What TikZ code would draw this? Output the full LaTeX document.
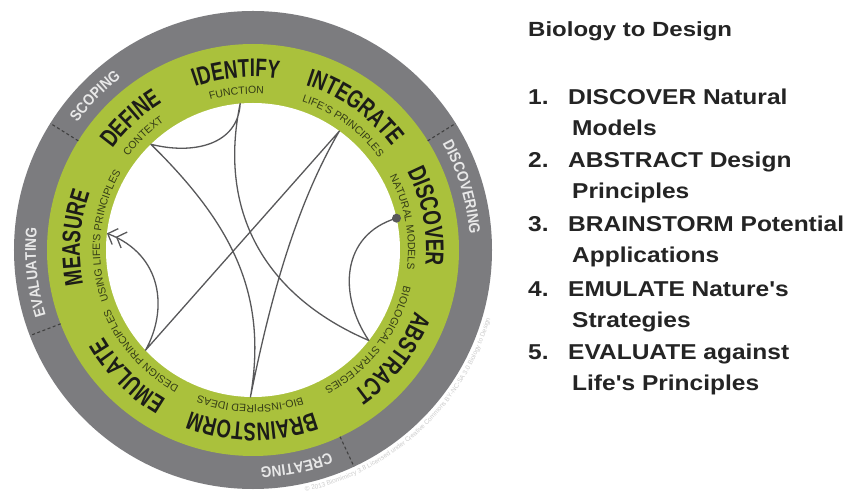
\documentclass[tikz,border=0pt]{standalone}
\usepackage{fontspec}
\setmainfont{Liberation Sans}
\newfontfamily\narrowsans[FakeStretch=0.73]{Liberation Sans}
\newfontfamily\phasesans[FakeStretch=0.88]{Liberation Sans}
\newfontfamily\listsans[FakeStretch=1.14]{Liberation Sans}
\newfontfamily\titlesans[FakeStretch=1.17]{Liberation Sans}
\usetikzlibrary{arrows.meta,positioning,decorations.text}

\definecolor{ringgrey}{RGB}{124,124,127}
\definecolor{ringgreen}{RGB}{170,193,60}
\definecolor{flowgrey}{RGB}{88,88,90}
\definecolor{stagetext}{RGB}{28,28,24}
\definecolor{subtext}{RGB}{52,60,22}
\definecolor{phasetext}{RGB}{232,232,232}
\definecolor{listtext}{RGB}{36,36,36}

\newcommand\stagefont{\narrowsans\bfseries\fontsize{25.5}{26}\selectfont}
\newcommand\subfont{\fontsize{10.5}{12}\selectfont}
\newcommand\phasefont{\phasesans\bfseries\fontsize{15.5}{16}\selectfont}
\newcommand\notefont{\fontsize{6.5}{7}\selectfont}
% text set along a clockwise arc, centred on an angle
\newcommand\ringtext[5]{%
  \path[decorate, decoration={text along path, text align=center,
    text color=#4, text={|#3|#5}}]
    (#1+70:#2) arc[start angle=#1+70, end angle=#1-70, radius=#2];}

\tikzset{
  flow/.style={draw=flowgrey, line width=1.3pt, line join=round,
    -{Straight Barb[length=8pt,width=17pt] Straight Barb[length=8pt,width=17pt]}},
  startdot/.style={circle, fill=flowgrey, minimum size=9pt, inner sep=0pt},
  divider/.style={draw=black!75, line width=1.1pt, dash pattern=on 3pt off 2.5pt},
  listitem/.style={anchor=base west, inner sep=0pt, text=listtext,
    font=\listsans\bfseries\fontsize{21.5}{24}\selectfont},
}

\begin{document}
\begin{tikzpicture}[x=1pt, y=1pt]
\useasboundingbox[fill=white] (-253,-250) rectangle (595,250);

% rings
\fill[ringgrey] (0,0) circle (239);
\fill[ringgreen] (0,0) circle (206);
\fill[white] (0,0) circle (147);
\foreach \a in {32,148,201,-65}
  \draw[divider] (\a:206) -- (\a:239);

% phases
\ringtext{135.7}{217}{\phasefont}{phasetext}{SCOPING}
\ringtext{16.7}{217}{\phasefont}{phasetext}{DISCOVERING}
\ringtext{-78.6}{217}{\phasefont}{phasetext}{CREATING}
\ringtext{185.8}{217}{\phasefont}{phasetext}{EVALUATING}

% stages
\ringtext{133}{173}{\stagefont}{stagetext}{DEFINE}
\ringtext{95.5}{173}{\stagefont}{stagetext}{IDENTIFY}
\ringtext{54.5}{173}{\stagefont}{stagetext}{INTEGRATE}
\ringtext{11}{173}{\stagefont}{stagetext}{DISCOVER}
\ringtext{-37.7}{173}{\stagefont}{stagetext}{ABSTRACT}
\ringtext{-90.3}{173}{\stagefont}{stagetext}{BRAINSTORM}
\ringtext{-135}{173}{\stagefont}{stagetext}{EMULATE}
\ringtext{176}{173}{\stagefont}{stagetext}{MEASURE}

\ringtext{134}{156}{\subfont}{subtext}{CONTEXT}
\ringtext{96}{156}{\subfont}{subtext}{FUNCTION}
\ringtext{54}{156}{\subfont}{subtext}{LIFE'S PRINCIPLES}
\ringtext{10.5}{155}{\subfont}{subtext}{NATURAL MODELS}
\ringtext{-38}{155}{\subfont}{subtext}{BIOLOGICAL STRATEGIES}
\ringtext{-91}{155}{\subfont}{subtext}{BIO-INSPIRED IDEAS}
\ringtext{-138}{155}{\subfont}{subtext}{DESIGN PRINCIPLES}
\ringtext{174.5}{153}{\subfont}{subtext}{USING LIFE'S PRINCIPLES}

\path[decorate, decoration={text along path, text align=center,
  text color=black!20, text={|\notefont|© 2013 Biomimicry 3.8     Licensed under Creative Commons BY-NC-SA 3.0     Biology to Design}}]
  (-86:247) arc[start angle=-86, end angle=-8, radius=247];

% stage points on the inner edge
\coordinate (define) at (134:147);
\coordinate (identify) at (95:147);
\coordinate (integrate) at (54:147);
\coordinate (discover) at (12.5:147);
\coordinate (abstract) at (-38:147);
\coordinate (brainstorm) at (-91:147);
\coordinate (emulate) at (-137:147);
\coordinate (measure) at (173.5:147);

\draw[flow] (discover) .. controls (88,15) and (85,-45) .. (abstract)
  .. controls (10,-45) and (-35,40) .. (identify)
  .. controls (-15,105) and (-60,95) .. (define)
  .. controls (-20,25) and (15,-45) .. (brainstorm)
  .. controls (15,-60) and (40,40) .. (integrate)
  -- (emulate)
  .. controls (-85,-60) and (-90,-5) .. (measure);
\node[startdot] (start) at (discover) {};

% list on the right
\node[listitem, font=\titlesans\bfseries\fontsize{20.5}{24}\selectfont] (title) at (275,213) {Biology to Design};
\foreach \i/\y/\a/\b in {1/145/DISCOVER Natural/Models,
    2/82/ABSTRACT Design/Principles,
    3/18/BRAINSTORM Potential/Applications,
    4/-47/EMULATE Nature's/Strategies,
    5/-110/EVALUATE against/Life's Principles} {
  \node[listitem] (num\i) at (275,\y) {\i.};
  \node[listitem] (item\i) at (315,\y) {\a};
  \node[listitem] (more\i) at (319,\y-30.5) {\b};
}
\end{tikzpicture}
\end{document}
